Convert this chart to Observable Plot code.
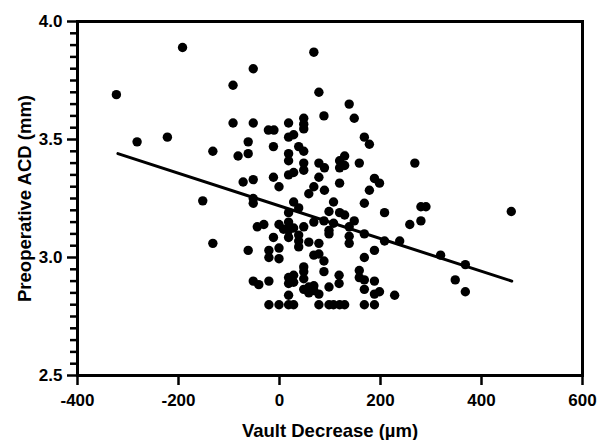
<!DOCTYPE html>
<html>
<head>
<meta charset="utf-8">
<script src="https://cdn.jsdelivr.net/npm/d3@7"></script>
<script src="https://cdn.jsdelivr.net/npm/@observablehq/plot@0.6"></script>
<style>
  html, body { margin: 0; padding: 0; background: #fff; }
</style>
</head>
<body>
<div id="chart"></div>
<script>
// Vault decrease (µm)
const vaultDecrease = [
  -323, -192, 68, -52, -92, 78, 138, 88, 148, -92,
  -52, 18, 48, 48, 48, -22, -11, 18, 28, -282,
  -222, -62, 168, 178, -132, -82, -62, -12, 18, 18,
  38, 48, 48, 48, 78, 89, 119, 129, 119, 129,
  158, 268, -72, -52, -12, -1, 18, 28, 78, 68,
  58, 89, 119, 188, 198, 178, -152, -52, -52, 28,
  38, 18, 107, 168, 68, 88, 98, 119, 129, 107,
  98, 98, 138, 138, 138, -44, -31, -1, 8, 18,
  18, 28, 48, 18, 38, 38, 38, 58, 78, -12,
  -132, -62, -21, -21, -1, -1, 68, 78, 88, 48,
  48, 88, -52, -41, -21, 18, 28, 18, 28, 48,
  48, 58, 68, 58, 68, 78, 118, 118, 98, 18,
  -21, -1, 18, 28, 78, 98, 107, 119, 129, 208,
  280, 290, 459, 148, 168, 208, 238, 258, 280, 319,
  368, 348, 368, 188, 168, 158, 158, 168, 188, 168,
  198, 188, 228, 168, 188
];
// Preoperative ACD (mm)
const preopACD = [
  3.69, 3.89, 3.87, 3.80, 3.73, 3.70, 3.65, 3.60, 3.59, 3.57,
  3.57, 3.57, 3.59, 3.565, 3.545, 3.54, 3.54, 3.51, 3.52, 3.49,
  3.51, 3.49, 3.51, 3.48, 3.45, 3.43, 3.44, 3.47, 3.44, 3.41,
  3.47, 3.45, 3.40, 3.37, 3.40, 3.38, 3.41, 3.43, 3.38, 3.39,
  3.40, 3.40, 3.32, 3.33, 3.34, 3.30, 3.35, 3.36, 3.34, 3.30,
  3.27, 3.285, 3.315, 3.335, 3.315, 3.285, 3.24, 3.25, 3.23, 3.235,
  3.21, 3.19, 3.235, 3.23, 3.15, 3.155, 3.195, 3.19, 3.18, 3.145,
  3.115, 3.10, 3.13, 3.09, 3.06, 3.13, 3.14, 3.14, 3.12, 3.15,
  3.115, 3.125, 3.13, 3.085, 3.095, 3.07, 3.045, 3.065, 3.06, 3.085,
  3.06, 3.03, 3.03, 3.00, 3.04, 2.995, 3.01, 3.015, 2.985, 2.96,
  2.94, 2.94, 2.90, 2.885, 2.90, 2.915, 2.925, 2.89, 2.895, 2.91,
  2.865, 2.875, 2.88, 2.85, 2.86, 2.845, 2.925, 2.89, 2.875, 2.84,
  2.80, 2.80, 2.80, 2.80, 2.80, 2.80, 2.80, 2.80, 2.80, 3.19,
  3.215, 3.215, 3.195, 3.155, 3.10, 3.07, 3.07, 3.14, 3.155, 3.01,
  2.97, 2.905, 2.855, 3.03, 3.00, 2.945, 2.915, 2.905, 2.90, 2.865,
  2.855, 2.845, 2.84, 2.80, 2.80
];
// Fitted regression line end points
const fitX = [-320, 460];
const fitY = [3.44, 2.90];

const xTicks = [-400, -200, 0, 200, 400, 600];
const yTicks = [2.5, 3.0, 3.5, 4.0];
const yMinorTicks = [2.55, 2.6, 2.65, 2.7, 2.75, 2.8, 2.85, 2.9, 2.95,
  3.05, 3.1, 3.15, 3.2, 3.25, 3.3, 3.35, 3.4, 3.45,
  3.55, 3.6, 3.65, 3.7, 3.75, 3.8, 3.85, 3.9, 3.95];

const xTitle = "Vault Decrease (µm)";
const yTitle = "Preoperative ACD (mm)";

const points = vaultDecrease.map((v, i) => ({x: v, y: preopACD[i]}));
const fit = fitX.map((v, i) => ({x: v, y: fitY[i]}));

const W = 597, H = 440, ML = 77, MR = 15, MT = 21, MB = 65;
const frameW = W - ML - MR, frameH = H - MT - MB;

const chart = Plot.plot({
  width: W,
  height: H,
  marginLeft: ML,
  marginRight: MR,
  marginTop: MT,
  marginBottom: MB,
  x: {domain: [-400, 600]},
  y: {domain: [2.5, 4.0]},
  style: {
    fontFamily: "'Liberation Sans', Arial, sans-serif",
    fontWeight: "bold",
    color: "black",
    background: "white"
  },
  marks: [
    // minor y ticks
    Plot.ruleY(yMinorTicks, {y: d => d, insetRight: frameW - 7, dx: -7, stroke: "black", strokeWidth: 2.5}),
    // major y ticks
    Plot.ruleY(yTicks, {y: d => d, insetRight: frameW - 10, dx: -10, stroke: "black", strokeWidth: 2.5}),
    // major x ticks
    Plot.ruleX(xTicks, {x: d => d, insetTop: frameH - 10, dy: 10, stroke: "black", strokeWidth: 2.5}),
    Plot.axisY(yTicks, {tickSize: 0, tickPadding: 15, tickFormat: d => d.toFixed(1), fontSize: 17, fontWeight: "bold", label: null}),
    Plot.axisX(xTicks, {tickSize: 0, tickPadding: 18, tickFormat: d => String(d), fontSize: 17, fontWeight: "bold", label: null}),
    Plot.frame({strokeWidth: 3, stroke: "black"}),
    Plot.line(fit, {x: "x", y: "y", stroke: "black", strokeWidth: 3}),
    Plot.dot(points, {x: "x", y: "y", r: 4.7, fill: "black", stroke: "none"}),
    Plot.text([xTitle], {frameAnchor: "bottom", dy: 56, text: d => d, fontSize: 18.5, fontWeight: "bold", textAnchor: "middle", lineAnchor: "middle"}),
    Plot.text([yTitle], {frameAnchor: "left", dx: -52, rotate: -90, text: d => d, fontSize: 18.5, fontWeight: "bold", textAnchor: "middle", lineAnchor: "middle"})
  ]
});
document.getElementById("chart").appendChild(chart);
</script>
</body>
</html>
